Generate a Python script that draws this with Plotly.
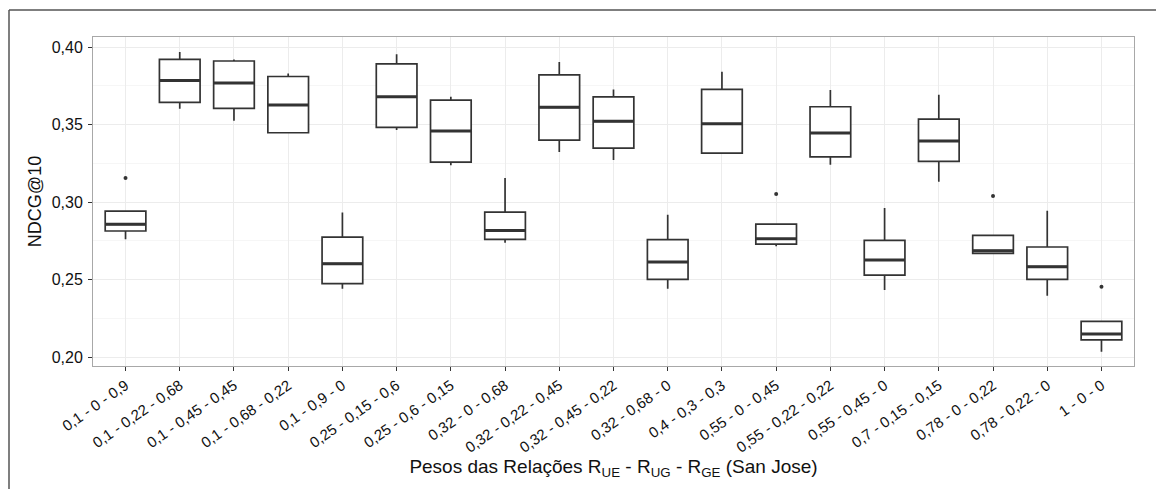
import plotly.graph_objects as go

# Weight combinations R_UE - R_UG - R_GE
categories = [
    "0,1 - 0 - 0,9", "0,1 - 0,22 - 0,68", "0,1 - 0,45 - 0,45", "0,1 - 0,68 - 0,22",
    "0,1 - 0,9 - 0", "0,25 - 0,15 - 0,6", "0,25 - 0,6 - 0,15", "0,32 - 0 - 0,68",
    "0,32 - 0,22 - 0,45", "0,32 - 0,45 - 0,22", "0,32 - 0,68 - 0", "0,4 - 0,3 - 0,3",
    "0,55 - 0 - 0,45", "0,55 - 0,22 - 0,22", "0,55 - 0,45 - 0", "0,7 - 0,15 - 0,15",
    "0,78 - 0 - 0,22", "0,78 - 0,22 - 0", "1 - 0 - 0",
]

# NDCG@10 box statistics per combination
lower_whisker = [0.2760, 0.3602, 0.3525, 0.3443, 0.2441, 0.3465, 0.3237, 0.2737, 0.3323, 0.3271,
                 0.2441, 0.3312, 0.2714, 0.3241, 0.2432, 0.3131, 0.2665, 0.2396, 0.2034]
q1_values = [0.2813, 0.3643, 0.3605, 0.3447, 0.2473, 0.3482, 0.3258, 0.2759, 0.3400, 0.3348,
             0.2501, 0.3316, 0.2729, 0.3292, 0.2529, 0.3263, 0.2669, 0.2501, 0.2110]
median_values = [0.2856, 0.3785, 0.3768, 0.3626, 0.2602, 0.3679, 0.3458, 0.2817, 0.3611, 0.3521,
                 0.2613, 0.3505, 0.2763, 0.3445, 0.2626, 0.3394, 0.2686, 0.2583, 0.2148]
q3_values = [0.2942, 0.3921, 0.3910, 0.3810, 0.2774, 0.3892, 0.3658, 0.2935, 0.3821, 0.3679,
             0.2757, 0.3727, 0.2858, 0.3615, 0.2753, 0.3535, 0.2785, 0.2710, 0.2230]
upper_whisker = [0.2942, 0.3968, 0.3920, 0.3830, 0.2933, 0.3953, 0.3679, 0.3155, 0.3903, 0.3727,
                 0.2918, 0.3841, 0.2858, 0.3723, 0.2961, 0.3692, 0.2785, 0.2944, 0.2230]

# Outlying runs
outlier_cats = ["0,1 - 0 - 0,9", "0,55 - 0 - 0,45", "0,78 - 0 - 0,22", "1 - 0 - 0"]
outlier_vals = [0.3155, 0.3052, 0.3039, 0.2454]

W, H = 1156, 489
ML, MR, MT, MB = 93, 22, 37, 123
BOX_W = 0.75
FONT = "Liberation Sans, Arial, sans-serif"
INK = "#333333"

plot_w = W - ML - MR
slot_px = plot_w / (len(categories) + 0.2)

fig = go.Figure()

fig.add_trace(go.Box(
    x=categories,
    q1=q1_values, median=median_values, q3=q3_values,
    lowerfence=lower_whisker, upperfence=upper_whisker,
    width=BOX_W, whiskerwidth=0,
    fillcolor="white",
    line=dict(color=INK, width=1.7),
    boxpoints=False, hoverinfo="skip", showlegend=False,
))

# thicker median bars (line-ew spans 1.4 x marker size)
fig.add_trace(go.Scatter(
    x=categories, y=median_values, mode="markers",
    marker=dict(symbol="line-ew", size=BOX_W * slot_px / 1.4,
                line=dict(color=INK, width=3)),
    hoverinfo="skip", showlegend=False,
))

fig.add_trace(go.Scatter(
    x=outlier_cats, y=outlier_vals, mode="markers",
    marker=dict(symbol="circle", size=4, color=INK),
    hoverinfo="skip", showlegend=False,
))

# outer figure frame (top and left edges)
fx = (9 - ML) / plot_w
fy = 1 + (MT - 10) / (H - MT - MB)
fig.add_shape(type="line", xref="paper", yref="paper",
              x0=fx, y0=fy, x1=1.1, y1=fy, line=dict(color="#555555", width=1.5))
fig.add_shape(type="line", xref="paper", yref="paper",
              x0=fx, y0=fy, x1=fx, y1=-0.5, line=dict(color="#555555", width=1.5))

fig.update_layout(
    width=W, height=H,
    margin=dict(l=ML, r=MR, t=MT, b=MB, autoexpand=False),
    paper_bgcolor="white", plot_bgcolor="white",
    separators=",.",
    font=dict(family=FONT, color="#222222"),
    showlegend=False,
)

fig.update_xaxes(
    type="category", categoryorder="array", categoryarray=categories,
    range=[-0.6, len(categories) - 0.4],
    showgrid=True, gridcolor="#ececec", gridwidth=1,
    showline=True, mirror=True, linecolor="#a8a8a8", linewidth=1,
    ticks="outside", ticklen=4, tickcolor=INK, tickwidth=1,
    tickangle=-35, tickfont=dict(size=15, color="#111111"),
    title=dict(text="Pesos das Relações R<sub>UE</sub> - R<sub>UG</sub> - R<sub>GE</sub> (San Jose)",
               font=dict(size=19, color="#111111"), standoff=0),
    zeroline=False,
)

fig.update_yaxes(
    range=[0.1942, 0.4065],
    tickvals=[0.20, 0.25, 0.30, 0.35, 0.40], tickformat=".2f",
    showgrid=True, gridcolor="#ececec", gridwidth=1,
    minor=dict(tickvals=[0.225, 0.275, 0.325, 0.375], showgrid=True,
               gridcolor="#f6f6f6", ticks=""),
    showline=True, mirror=True, linecolor="#a8a8a8", linewidth=1,
    ticks="outside", ticklen=4, tickcolor=INK, tickwidth=1,
    tickfont=dict(size=16, color="#111111"), ticklabelstandoff=2,
    title=dict(text="NDCG@10", font=dict(size=18, color="#111111"), standoff=5),
    zeroline=False,
)

fig.write_html("out.html")
